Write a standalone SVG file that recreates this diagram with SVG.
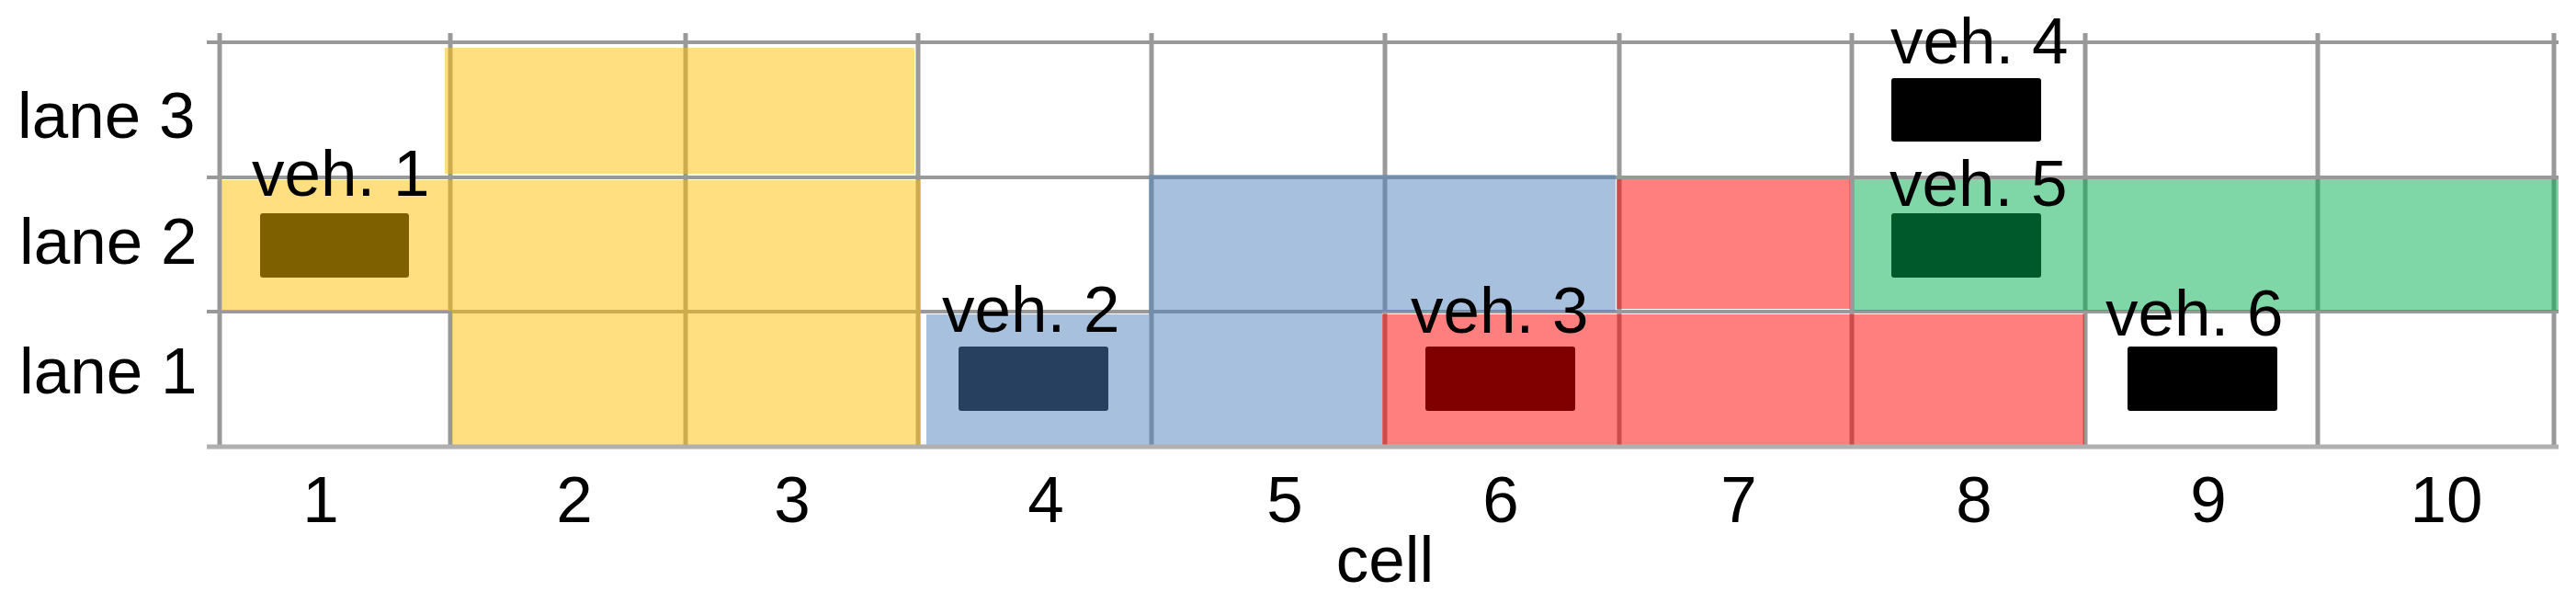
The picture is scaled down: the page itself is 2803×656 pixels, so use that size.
<svg xmlns="http://www.w3.org/2000/svg" width="2803" height="656" viewBox="0 0 2803 656">
<style>
text{font-family:"Liberation Sans",Arial,sans-serif;font-size:71px;fill:#000}
.vl{stroke:#999;stroke-width:5}
.hl{stroke:#999;stroke-width:4}
.bl{stroke:#b0b0b0;stroke-width:5}
.reg{fill-opacity:0.5}
.veh{stroke:none}
.num{text-anchor:middle}
</style>
<rect width="2803" height="656" fill="#fff"/>
<g id="grid">
<line class="hl" x1="225" y1="46" x2="2784" y2="46"/>
<line class="hl" x1="225" y1="193" x2="2784" y2="193"/>
<line class="hl" x1="225" y1="339" x2="2784" y2="339"/>
<line class="vl" x1="239" y1="36" x2="239" y2="486"/>
<line class="vl" x1="490" y1="36" x2="490" y2="486"/>
<line class="vl" x1="746" y1="36" x2="746" y2="486"/>
<line class="vl" x1="999" y1="36" x2="999" y2="486"/>
<line class="vl" x1="1253" y1="36" x2="1253" y2="486"/>
<line class="vl" x1="1507" y1="36" x2="1507" y2="486"/>
<line class="vl" x1="1762" y1="36" x2="1762" y2="486"/>
<line class="vl" x1="2015" y1="36" x2="2015" y2="486"/>
<line class="vl" x1="2269" y1="36" x2="2269" y2="486"/>
<line class="vl" x1="2522" y1="36" x2="2522" y2="486"/>
<line class="vl" x1="2779" y1="36" x2="2779" y2="486"/>
</g>
<g id="regions">
<rect id="yellow-lane3" class="reg" fill="#FFBF00" x="484" y="52" width="511" height="137"/>
<polygon id="yellow-lanes12" class="reg" fill="#FFBF00" points="241,196 1002,196 1002,484 492,484 492,338 241,338"/>
<polygon id="blue" class="reg" fill="#4F81BD" points="1250,190 1758,190 1758,339 1504,339 1504,484 1008,484 1008,342 1250,342"/>
<rect id="red-lane2" class="reg" fill="#FF0000" x="1759" y="195" width="254" height="141"/>
<rect id="red-lane1" class="reg" fill="#FF0000" x="1504" y="342" width="764" height="142"/>
<rect id="green" class="reg" fill="#00B050" x="2017" y="195" width="767" height="143"/>
</g>
<line class="bl" x1="225" y1="486" x2="2784" y2="486"/>
<g id="lane-labels">
<text x="19" y="150">lane 3</text>
<text x="21" y="287">lane 2</text>
<text x="21" y="428">lane 1</text>
</g>
<g id="veh1">
<rect class="veh" x="283" y="232" width="162" height="70" rx="3" fill="#7F6000"/>
<text x="274" y="213">veh. 1</text>
</g>
<g id="veh2">
<rect class="veh" x="1043" y="377" width="163" height="70" rx="3" fill="#27405F"/>
<text x="1025" y="361">veh. 2</text>
</g>
<g id="veh3">
<rect class="veh" x="1551" y="377" width="163" height="70" rx="3" fill="#800000"/>
<text x="1535" y="362">veh. 3</text>
</g>
<g id="veh4">
<rect class="veh" x="2058" y="85" width="163" height="69" rx="3" fill="#000"/>
<text x="2057" y="69">veh. 4</text>
</g>
<g id="veh5">
<rect class="veh" x="2058" y="232" width="163" height="70" rx="3" fill="#00592A"/>
<text x="2056" y="224">veh. 5</text>
</g>
<g id="veh6">
<rect class="veh" x="2315" y="377" width="163" height="70" rx="3" fill="#000"/>
<text x="2291" y="365">veh. 6</text>
</g>
<g id="axis">
<text class="num" x="349" y="568">1</text>
<text class="num" x="625" y="568">2</text>
<text class="num" x="862" y="568">3</text>
<text class="num" x="1138" y="568">4</text>
<text class="num" x="1398" y="568">5</text>
<text class="num" x="1633" y="568">6</text>
<text class="num" x="1892" y="568">7</text>
<text class="num" x="2148" y="568">8</text>
<text class="num" x="2403" y="568">9</text>
<text class="num" x="2662" y="568">10</text>
<text class="num" x="1507" y="633">cell</text>
</g>
</svg>
